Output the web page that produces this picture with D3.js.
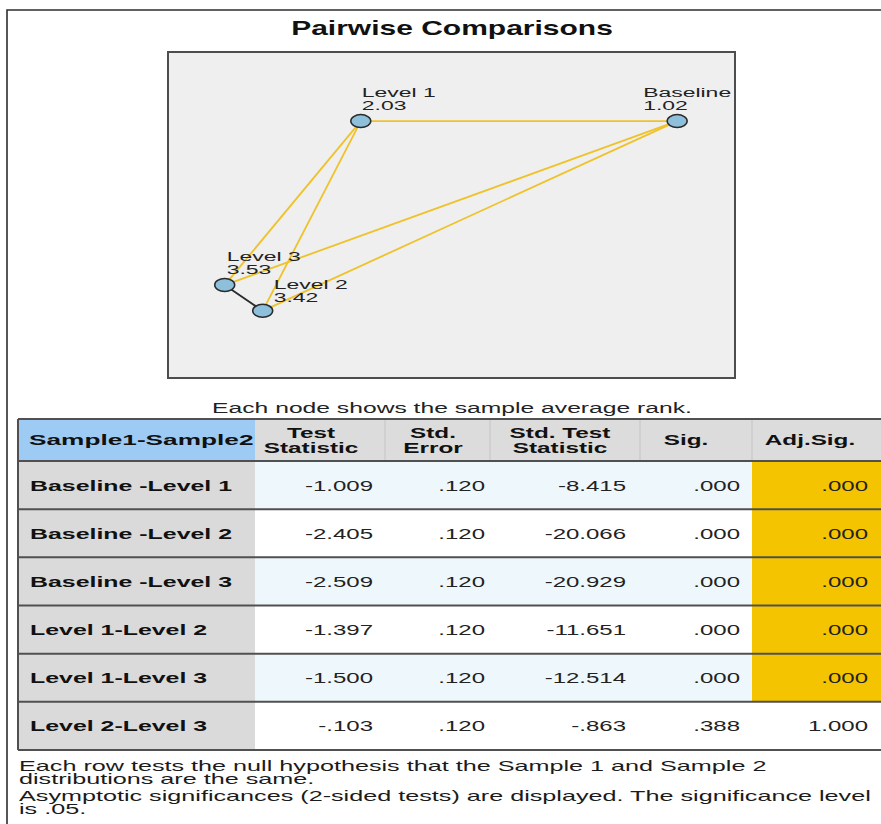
<!DOCTYPE html>
<html>
<head>
<meta charset="utf-8">
<script src="https://cdn.jsdelivr.net/npm/d3@7"></script>
<style>
  body { margin: 0; background: #fff; }
  svg { display: block; font-family: "Liberation Sans", Arial, sans-serif; }
</style>
</head>
<body>
<svg id="chart"></svg>
<script>
// ---- data ----
const nodeNames = ['Level 1', 'Baseline', 'Level 3', 'Level 2'];
const nodeRanks = [2.03, 1.02, 3.53, 3.42];
// layout position of each node inside the graph box (0-100 units)
const nodeX = [34.0, 89.8, 10.0, 16.7];
const nodeY = [21.2, 21.2, 71.5, 79.4];

const pairLabels = ['Baseline -Level 1', 'Baseline -Level 2', 'Baseline -Level 3',
                    'Level 1-Level 2', 'Level 1-Level 3', 'Level 2-Level 3'];
const pairNodes = [['Baseline', 'Level 1'], ['Baseline', 'Level 2'], ['Baseline', 'Level 3'],
                   ['Level 1', 'Level 2'], ['Level 1', 'Level 3'], ['Level 2', 'Level 3']];
const testStat = [-1.009, -2.405, -2.509, -1.397, -1.500, -0.103];
const stdError = [0.120, 0.120, 0.120, 0.120, 0.120, 0.120];
const stdTestStat = [-8.415, -20.066, -20.929, -11.651, -12.514, -0.863];
const sig = [0.000, 0.000, 0.000, 0.000, 0.000, 0.388];
const adjSig = [0.000, 0.000, 0.000, 0.000, 0.000, 1.000];
const columnHeaders = [['Sample1-Sample2'], ['Test', 'Statistic'], ['Std.', 'Error'],
                       ['Std. Test', 'Statistic'], ['Sig.'], ['Adj.Sig.']];
const footnotes = [
  ['Each row tests the null hypothesis that the Sample 1 and Sample 2', 'distributions are the same.'],
  ['Asymptotic significances (2-sided tests) are displayed. The significance level', 'is .05.']
];

// ---- layout ----
const W = 881, H = 824;
const box = { x0: 168, y0: 52, x1: 735, y1: 378 };
const labelNudge = { 'Level 1': [1, 0], 'Baseline': [-34, 0], 'Level 3': [2, 0], 'Level 2': [11, 2] };
const colEdges = [18, 255, 385, 490, 640, 752, 881];
const headCenters = [null, 311, 433, 560, 686, 810];
const valueRight = [null, 373, 485, 626, 740, 868];

const svg = d3.select('#chart').attr('width', W).attr('height', H);

// the source picture is stretched horizontally, so every text gets an x scale
function txt(parent, x, y, s, o = {}) {
  return parent.append('text')
    .attr('transform', `translate(${x},${y}) scale(${o.sx ?? 1.62},1)`)
    .attr('text-anchor', o.anchor || 'start')
    .style('font-size', (o.size || 15) + 'px')
    .style('font-weight', o.weight || 'normal')
    .style('fill', o.fill || '#1b1b1b')
    .text(s);
}

const loc = d3.formatLocale({ decimal: '.', thousands: ',', grouping: [3], currency: ['', ''], minus: '-' });
const f3 = loc.format('.3f');
const spss = v => f3(v).replace(/^(-?)0\./, '$1.');

// outer frame (top and left only)
svg.append('path').attr('d', `M7,824 V10 H881`)
  .attr('fill', 'none').attr('stroke', '#2e2e2e').attr('stroke-width', 1.6);

txt(svg, 452, 35, 'Pairwise Comparisons', { size: 20, weight: 'bold', anchor: 'middle', sx: 1.5, fill: '#111' });

// ---- network graph ----
const x = d3.scaleLinear().domain([0, 100]).range([box.x0, box.x1]);
const y = d3.scaleLinear().domain([0, 100]).range([box.y0, box.y1]);

svg.append('rect')
  .attr('x', box.x0).attr('y', box.y0)
  .attr('width', box.x1 - box.x0).attr('height', box.y1 - box.y0)
  .attr('fill', '#efefef').attr('stroke', '#4d4d4d').attr('stroke-width', 2);

const nodes = nodeNames.map((n, i) => ({ name: n, rank: nodeRanks[i], x: x(nodeX[i]), y: y(nodeY[i]) }));
const byName = Object.fromEntries(nodes.map(d => [d.name, d]));
const edges = pairNodes.map((p, i) => ({ a: byName[p[0]], b: byName[p[1]], adj: adjSig[i] }));

svg.append('g').selectAll('line').data(edges).join('line')
  .attr('x1', d => d.a.x).attr('y1', d => d.a.y)
  .attr('x2', d => d.b.x).attr('y2', d => d.b.y)
  .attr('stroke', d => d.adj < 0.05 ? '#efc22a' : '#2a2a2a')
  .attr('stroke-width', 1.8);

svg.append('g').selectAll('ellipse').data(nodes).join('ellipse')
  .attr('cx', d => d.x).attr('cy', d => d.y)
  .attr('rx', 10).attr('ry', 6.5)
  .attr('fill', '#8ec0dc').attr('stroke', '#2a2a2a').attr('stroke-width', 1.5);

const lab = svg.append('g');
nodes.forEach(d => {
  const [dx, dy] = labelNudge[d.name];
  txt(lab, d.x + dx, d.y - 24 + dy, d.name, { size: 13.5, sx: 1.7, fill: '#222' });
  txt(lab, d.x + dx, d.y - 11 + dy, d3.format('.2f')(d.rank), { size: 13.5, sx: 1.7, fill: '#222' });
});

txt(svg, 452, 413, 'Each node shows the sample average rank.', { size: 15, anchor: 'middle', sx: 1.645, fill: '#222' });

// ---- table ----
const tTop = 419, headBottom = 461, tBottom = 750;
const row = d3.scaleBand().domain(pairLabels).range([headBottom, tBottom]);
const colX = d3.scaleOrdinal().domain(d3.range(7)).range(colEdges);
const cols = [testStat, stdError, stdTestStat, sig, adjSig];

const tbl = svg.append('g');

// header
tbl.append('rect').attr('x', colX(0)).attr('y', tTop).attr('width', colX(6) - colX(0))
  .attr('height', headBottom - tTop).attr('fill', '#dcdcdc');
tbl.append('rect').attr('x', colX(0)).attr('y', tTop).attr('width', colX(1) - colX(0))
  .attr('height', headBottom - tTop).attr('fill', '#9ecbf4');

// body cells
pairLabels.forEach((p, i) => {
  const y0 = row(p), h = row.bandwidth();
  tbl.append('rect').attr('x', colX(0)).attr('y', y0).attr('width', colX(1) - colX(0)).attr('height', h).attr('fill', '#dadada');
  tbl.append('rect').attr('x', colX(1)).attr('y', y0).attr('width', colX(5) - colX(1)).attr('height', h)
    .attr('fill', i % 2 === 0 ? '#eef8fc' : '#ffffff');
  tbl.append('rect').attr('x', colX(5)).attr('y', y0).attr('width', colX(6) - colX(5)).attr('height', h)
    .attr('fill', adjSig[i] < 0.05 ? '#f5c400' : '#ffffff');
});

// faint column separators in the header
d3.range(2, 6).forEach(c => {
  tbl.append('line').attr('x1', colX(c)).attr('x2', colX(c)).attr('y1', tTop).attr('y2', headBottom)
    .attr('stroke', '#c4c4c4').attr('stroke-width', 1);
});

// row rules
[tTop, headBottom, ...pairLabels.map(p => row(p) + row.bandwidth())].forEach(yy => {
  tbl.append('line').attr('x1', colX(0)).attr('x2', W).attr('y1', yy).attr('y2', yy)
    .attr('stroke', '#505050').attr('stroke-width', 2);
});
tbl.append('line').attr('x1', colX(0)).attr('x2', colX(0)).attr('y1', tTop).attr('y2', tBottom)
  .attr('stroke', '#505050').attr('stroke-width', 2);

// header text
columnHeaders.forEach((lines, c) => {
  if (c === 0) {
    txt(tbl, 29, 445, lines[0], { weight: 'bold', sx: 1.75, fill: '#111' });
  } else if (lines.length === 1) {
    txt(tbl, headCenters[c], 445, lines[0], { weight: 'bold', anchor: 'middle', sx: 1.62, fill: '#111' });
  } else {
    txt(tbl, headCenters[c], 438, lines[0], { weight: 'bold', anchor: 'middle', sx: 1.62, fill: '#111' });
    txt(tbl, headCenters[c], 453, lines[1], { weight: 'bold', anchor: 'middle', sx: 1.62, fill: '#111' });
  }
});

// body text
pairLabels.forEach((p, i) => {
  const yy = row(p) + row.bandwidth() / 2 + 5.5;
  txt(tbl, 30, yy, p, { weight: 'bold', sx: 1.66, fill: '#111' });
  cols.forEach((arr, c) => {
    txt(tbl, valueRight[c + 1], yy, spss(arr[i]), { anchor: 'end', sx: 1.6, fill: '#222' });
  });
});

// footnotes
let fy = 771;
footnotes.forEach(para => {
  para.forEach(line => {
    txt(svg, 19, fy, line, { size: 15, sx: 1.68, fill: '#1b1b1b' });
    fy += 13;
  });
  fy += 4;
});
</script>
</body>
</html>
